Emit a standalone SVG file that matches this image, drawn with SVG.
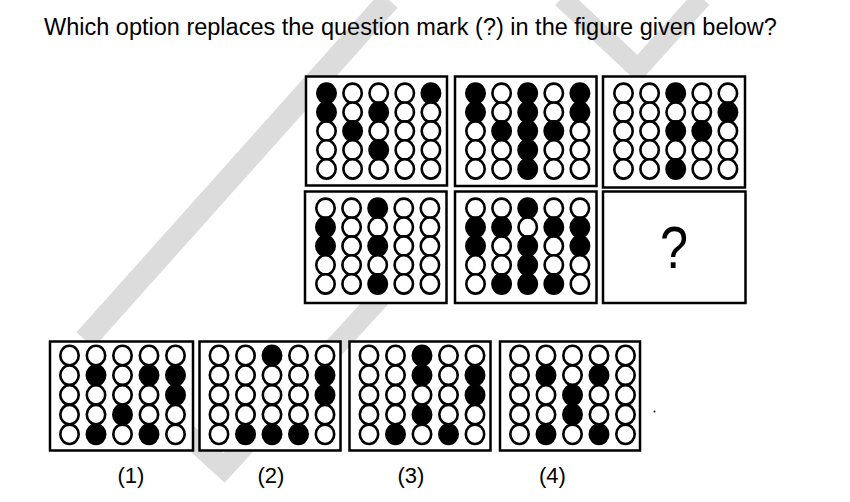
<svg xmlns="http://www.w3.org/2000/svg" xmlns:xlink="http://www.w3.org/1999/xlink" width="850" height="502" viewBox="0 0 850 502">
<style>
.frame{fill:#fff;stroke:#000;stroke-width:2.5}
.o{fill:#fff;stroke:#000;stroke-width:2.6}
.f{fill:#000;stroke:#000;stroke-width:2.6}
.t{font-family:"Liberation Sans",Arial,sans-serif;fill:#000}
.wm{fill:none;stroke:#dcdcdc;stroke-linejoin:miter;stroke-miterlimit:10}
</style>
<defs>
<ellipse id="o" class="o" rx="9.2" ry="9.7"/>
<ellipse id="f" class="f" rx="9.2" ry="9.7"/>
</defs>
<rect width="850" height="502" fill="#fff"/>
<g id="watermark">
<line class="wm" x1="389" y1="0" x2="85" y2="340" stroke-width="23"/>
<polyline class="wm" points="562,-2 638,69 702,-2" stroke-width="20"/>
<polyline class="wm" points="100,354 224,468 410,265" stroke-width="21"/>
</g>
<text class="t" x="44" y="35" font-size="23.5">Which option replaces the question mark (?) in the figure given below?</text>

<g id="panel-a" transform="translate(306,76.5)">
<rect class="frame" width="141" height="109"/>
<g transform="translate(0,16.8)"><use href="#f" x="20.5"/><use href="#o" x="46.6"/><use href="#o" x="72.7"/><use href="#o" x="98.8"/><use href="#f" x="124.9"/></g>
<g transform="translate(0,35.7)"><use href="#f" x="20.5"/><use href="#o" x="46.6"/><use href="#f" x="72.7"/><use href="#o" x="98.8"/><use href="#o" x="124.9"/></g>
<g transform="translate(0,54.6)"><use href="#o" x="20.5"/><use href="#f" x="46.6"/><use href="#o" x="72.7"/><use href="#o" x="98.8"/><use href="#o" x="124.9"/></g>
<g transform="translate(0,73.5)"><use href="#o" x="20.5"/><use href="#o" x="46.6"/><use href="#f" x="72.7"/><use href="#o" x="98.8"/><use href="#o" x="124.9"/></g>
<g transform="translate(0,92.4)"><use href="#o" x="20.5"/><use href="#o" x="46.6"/><use href="#o" x="72.7"/><use href="#o" x="98.8"/><use href="#o" x="124.9"/></g>
</g>

<g id="panel-b" transform="translate(455,76.5)">
<rect class="frame" width="141.5" height="109.5"/>
<g transform="translate(0,16.8)"><use href="#f" x="20.5"/><use href="#o" x="46.6"/><use href="#f" x="72.7"/><use href="#o" x="98.8"/><use href="#f" x="124.9"/></g>
<g transform="translate(0,35.7)"><use href="#f" x="20.5"/><use href="#o" x="46.6"/><use href="#f" x="72.7"/><use href="#o" x="98.8"/><use href="#f" x="124.9"/></g>
<g transform="translate(0,54.6)"><use href="#o" x="20.5"/><use href="#f" x="46.6"/><use href="#f" x="72.7"/><use href="#f" x="98.8"/><use href="#o" x="124.9"/></g>
<g transform="translate(0,73.5)"><use href="#o" x="20.5"/><use href="#o" x="46.6"/><use href="#f" x="72.7"/><use href="#o" x="98.8"/><use href="#o" x="124.9"/></g>
<g transform="translate(0,92.4)"><use href="#o" x="20.5"/><use href="#o" x="46.6"/><use href="#f" x="72.7"/><use href="#o" x="98.8"/><use href="#o" x="124.9"/></g>
</g>

<g id="panel-c" transform="translate(603,76.5)">
<rect class="frame" width="142" height="111"/>
<g transform="translate(0,16.8)"><use href="#o" x="20.5"/><use href="#o" x="46.6"/><use href="#f" x="72.7"/><use href="#o" x="98.8"/><use href="#o" x="124.9"/></g>
<g transform="translate(0,35.7)"><use href="#o" x="20.5"/><use href="#o" x="46.6"/><use href="#o" x="72.7"/><use href="#o" x="98.8"/><use href="#f" x="124.9"/></g>
<g transform="translate(0,54.6)"><use href="#o" x="20.5"/><use href="#o" x="46.6"/><use href="#f" x="72.7"/><use href="#f" x="98.8"/><use href="#o" x="124.9"/></g>
<g transform="translate(0,73.5)"><use href="#o" x="20.5"/><use href="#o" x="46.6"/><use href="#o" x="72.7"/><use href="#o" x="98.8"/><use href="#o" x="124.9"/></g>
<g transform="translate(0,92.4)"><use href="#o" x="20.5"/><use href="#o" x="46.6"/><use href="#f" x="72.7"/><use href="#o" x="98.8"/><use href="#o" x="124.9"/></g>
</g>

<g id="panel-d" transform="translate(305,191.5)">
<rect class="frame" width="141.5" height="111.5"/>
<g transform="translate(0,16.8)"><use href="#o" x="20.5"/><use href="#o" x="46.6"/><use href="#f" x="72.7"/><use href="#o" x="98.8"/><use href="#o" x="124.9"/></g>
<g transform="translate(0,35.7)"><use href="#f" x="20.5"/><use href="#o" x="46.6"/><use href="#o" x="72.7"/><use href="#o" x="98.8"/><use href="#o" x="124.9"/></g>
<g transform="translate(0,54.6)"><use href="#f" x="20.5"/><use href="#o" x="46.6"/><use href="#f" x="72.7"/><use href="#o" x="98.8"/><use href="#o" x="124.9"/></g>
<g transform="translate(0,73.5)"><use href="#o" x="20.5"/><use href="#o" x="46.6"/><use href="#o" x="72.7"/><use href="#o" x="98.8"/><use href="#o" x="124.9"/></g>
<g transform="translate(0,92.4)"><use href="#o" x="20.5"/><use href="#o" x="46.6"/><use href="#f" x="72.7"/><use href="#o" x="98.8"/><use href="#o" x="124.9"/></g>
</g>

<g id="panel-e" transform="translate(455,191.5)">
<rect class="frame" width="141.5" height="111.5"/>
<g transform="translate(0,16.8)"><use href="#o" x="20.5"/><use href="#o" x="46.6"/><use href="#f" x="72.7"/><use href="#o" x="98.8"/><use href="#o" x="124.9"/></g>
<g transform="translate(0,35.7)"><use href="#f" x="20.5"/><use href="#f" x="46.6"/><use href="#o" x="72.7"/><use href="#f" x="98.8"/><use href="#f" x="124.9"/></g>
<g transform="translate(0,54.6)"><use href="#f" x="20.5"/><use href="#o" x="46.6"/><use href="#f" x="72.7"/><use href="#o" x="98.8"/><use href="#f" x="124.9"/></g>
<g transform="translate(0,73.5)"><use href="#o" x="20.5"/><use href="#o" x="46.6"/><use href="#f" x="72.7"/><use href="#o" x="98.8"/><use href="#o" x="124.9"/></g>
<g transform="translate(0,92.4)"><use href="#o" x="20.5"/><use href="#f" x="46.6"/><use href="#f" x="72.7"/><use href="#f" x="98.8"/><use href="#o" x="124.9"/></g>
</g>

<g id="panel-q" transform="translate(603,191.5)">
<rect class="frame" width="142.5" height="111.5"/>
<text class="t" x="71" y="76.5" font-size="60" text-anchor="middle" textLength="28" lengthAdjust="spacingAndGlyphs">?</text>
</g>

<g id="option-1" transform="translate(50,341.5)">
<rect class="frame" width="143" height="109"/>
<g transform="translate(0,14)"><use href="#o" x="19.5"/><use href="#o" x="46"/><use href="#o" x="72.5"/><use href="#o" x="99"/><use href="#o" x="125.5"/></g>
<g transform="translate(0,33.7)"><use href="#o" x="19.5"/><use href="#f" x="46"/><use href="#o" x="72.5"/><use href="#f" x="99"/><use href="#f" x="125.5"/></g>
<g transform="translate(0,53.4)"><use href="#o" x="19.5"/><use href="#o" x="46"/><use href="#o" x="72.5"/><use href="#o" x="99"/><use href="#f" x="125.5"/></g>
<g transform="translate(0,73.1)"><use href="#o" x="19.5"/><use href="#o" x="46"/><use href="#f" x="72.5"/><use href="#o" x="99"/><use href="#o" x="125.5"/></g>
<g transform="translate(0,92.8)"><use href="#o" x="19.5"/><use href="#f" x="46"/><use href="#o" x="72.5"/><use href="#f" x="99"/><use href="#o" x="125.5"/></g>
</g>

<g id="option-2" transform="translate(199.5,341.5)">
<rect class="frame" width="141" height="109"/>
<g transform="translate(0,14)"><use href="#o" x="19.5"/><use href="#o" x="46"/><use href="#f" x="72.5"/><use href="#o" x="99"/><use href="#o" x="125.5"/></g>
<g transform="translate(0,33.7)"><use href="#o" x="19.5"/><use href="#o" x="46"/><use href="#o" x="72.5"/><use href="#o" x="99"/><use href="#f" x="125.5"/></g>
<g transform="translate(0,53.4)"><use href="#o" x="19.5"/><use href="#o" x="46"/><use href="#o" x="72.5"/><use href="#o" x="99"/><use href="#f" x="125.5"/></g>
<g transform="translate(0,73.1)"><use href="#o" x="19.5"/><use href="#o" x="46"/><use href="#o" x="72.5"/><use href="#o" x="99"/><use href="#o" x="125.5"/></g>
<g transform="translate(0,92.8)"><use href="#o" x="19.5"/><use href="#f" x="46"/><use href="#f" x="72.5"/><use href="#f" x="99"/><use href="#o" x="125.5"/></g>
</g>

<g id="option-3" transform="translate(349.5,341.5)">
<rect class="frame" width="141" height="109"/>
<g transform="translate(0,14)"><use href="#o" x="19.5"/><use href="#o" x="46"/><use href="#f" x="72.5"/><use href="#o" x="99"/><use href="#o" x="125.5"/></g>
<g transform="translate(0,33.7)"><use href="#o" x="19.5"/><use href="#o" x="46"/><use href="#f" x="72.5"/><use href="#o" x="99"/><use href="#f" x="125.5"/></g>
<g transform="translate(0,53.4)"><use href="#o" x="19.5"/><use href="#o" x="46"/><use href="#o" x="72.5"/><use href="#o" x="99"/><use href="#f" x="125.5"/></g>
<g transform="translate(0,73.1)"><use href="#o" x="19.5"/><use href="#o" x="46"/><use href="#f" x="72.5"/><use href="#o" x="99"/><use href="#o" x="125.5"/></g>
<g transform="translate(0,92.8)"><use href="#o" x="19.5"/><use href="#f" x="46"/><use href="#o" x="72.5"/><use href="#f" x="99"/><use href="#o" x="125.5"/></g>
</g>

<g id="option-4" transform="translate(500,341.5)">
<rect class="frame" width="140" height="109"/>
<g transform="translate(0,14)"><use href="#o" x="19.5"/><use href="#o" x="46"/><use href="#o" x="72.5"/><use href="#o" x="99"/><use href="#o" x="125.5"/></g>
<g transform="translate(0,33.7)"><use href="#o" x="19.5"/><use href="#f" x="46"/><use href="#o" x="72.5"/><use href="#f" x="99"/><use href="#o" x="125.5"/></g>
<g transform="translate(0,53.4)"><use href="#o" x="19.5"/><use href="#o" x="46"/><use href="#f" x="72.5"/><use href="#o" x="99"/><use href="#o" x="125.5"/></g>
<g transform="translate(0,73.1)"><use href="#o" x="19.5"/><use href="#o" x="46"/><use href="#f" x="72.5"/><use href="#o" x="99"/><use href="#o" x="125.5"/></g>
<g transform="translate(0,92.8)"><use href="#o" x="19.5"/><use href="#f" x="46"/><use href="#o" x="72.5"/><use href="#f" x="99"/><use href="#o" x="125.5"/></g>
</g>

<g id="labels" class="t" font-size="22" text-anchor="middle">
<text class="t" x="131" y="483">(1)</text>
<text class="t" x="271" y="483">(2)</text>
<text class="t" x="411" y="483">(3)</text>
<text class="t" x="552.5" y="483">(4)</text>
</g>
<circle cx="654.5" cy="411.5" r="1" fill="#000"/>
<g id="connectors"/>
</svg>
